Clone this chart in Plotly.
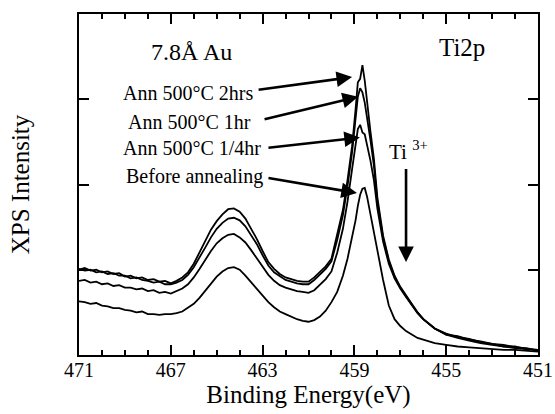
import plotly.graph_objects as go

# ---- data (binding energy in eV, intensity in arbitrary units) ----
energy = [471.00, 470.75, 470.50, 470.25, 470.00, 469.75, 469.50, 469.25, 469.00, 468.75,
          468.50, 468.25, 468.00, 467.75, 467.50, 467.25, 467.00, 466.75, 466.50, 466.25,
          466.00, 465.75, 465.50, 465.25, 465.00, 464.75, 464.50, 464.25, 464.00, 463.75,
          463.50, 463.25, 463.00, 462.75, 462.50, 462.25, 462.00, 461.75, 461.50, 461.25,
          461.00,
          460.75, 460.50, 460.25, 460.00, 459.75, 459.50, 459.30, 459.10, 458.95, 458.85,
          458.75, 458.65, 458.55, 458.45, 458.30, 458.15, 458.00, 457.75, 457.50, 457.25,
          457.00, 456.75, 456.50, 456.25, 456.00, 455.75, 455.50, 455.00, 454.50, 454.00,
          453.50, 453.00, 452.50, 452.00, 451.50, 451.00]

ann_2hrs = [1.00, 1.02, 0.99, 1.00, 0.97, 0.98, 0.95, 0.96, 0.92, 0.93,
            0.90, 0.91, 0.88, 0.89, 0.86, 0.87, 0.84, 0.87, 0.91, 0.97,
            1.07, 1.20, 1.33, 1.47, 1.57, 1.65, 1.71, 1.72, 1.68, 1.60,
            1.48, 1.36, 1.22, 1.09, 1.01, 0.95, 0.91, 0.89, 0.87, 0.86,
            0.86,
            0.91, 0.97, 1.04, 1.13, 1.40, 1.70, 2.05, 2.45, 2.88, 3.20,
            3.24, 3.40, 3.22, 2.95, 2.62, 2.30, 1.85, 1.40, 1.12, 0.93,
            0.80, 0.70, 0.60, 0.50, 0.42, 0.36, 0.31, 0.24, 0.22, 0.18,
            0.16, 0.13, 0.12, 0.09, 0.08, 0.05]

ann_1hr = [1.01, 0.99, 1.00, 0.97, 0.98, 0.95, 0.96, 0.93, 0.93, 0.90,
           0.91, 0.88, 0.87, 0.85, 0.86, 0.83, 0.83, 0.85, 0.88, 0.94,
           1.03, 1.14, 1.26, 1.38, 1.48, 1.55, 1.60, 1.61, 1.58, 1.51,
           1.41, 1.30, 1.17, 1.05, 0.97, 0.92, 0.88, 0.86, 0.84, 0.83,
           0.83,
           0.88, 0.94, 1.01, 1.10, 1.35, 1.64, 1.98, 2.38, 2.78, 3.03,
           3.13, 3.08, 2.96, 2.80, 2.52, 2.22, 1.80, 1.37, 1.10, 0.92,
           0.79, 0.69, 0.59, 0.50, 0.42, 0.36, 0.31, 0.25, 0.21, 0.19,
           0.15, 0.13, 0.10, 0.10, 0.07, 0.06]

ann_quarter = [0.87, 0.88, 0.85, 0.86, 0.83, 0.84, 0.81, 0.82, 0.79, 0.79,
               0.77, 0.78, 0.75, 0.76, 0.73, 0.74, 0.72, 0.75, 0.78, 0.83,
               0.91, 1.01, 1.12, 1.22, 1.31, 1.37, 1.41, 1.42, 1.38, 1.32,
               1.23, 1.13, 1.03, 0.94, 0.87, 0.82, 0.79, 0.77, 0.75, 0.74,
               0.73,
               0.76, 0.82, 0.89, 0.98, 1.20, 1.48, 1.80, 2.18, 2.50, 2.65,
               2.70, 2.61, 2.59, 2.47, 2.28, 2.05, 1.72, 1.33, 1.07, 0.90,
               0.78, 0.68, 0.58, 0.49, 0.42, 0.37, 0.31, 0.24, 0.20, 0.17,
               0.14, 0.12, 0.10, 0.08, 0.07, 0.06]

before_anneal = [0.63, 0.62, 0.60, 0.61, 0.58, 0.57, 0.55, 0.55, 0.53, 0.52,
                 0.50, 0.51, 0.48, 0.48, 0.47, 0.48, 0.48, 0.49, 0.51, 0.55,
                 0.60, 0.67, 0.75, 0.84, 0.92, 0.98, 1.02, 1.03, 1.00, 0.93,
                 0.85, 0.77, 0.69, 0.62, 0.56, 0.51, 0.48, 0.45, 0.42, 0.40,
                 0.39,
                 0.41, 0.45, 0.52, 0.62, 0.74, 0.93, 1.13, 1.38, 1.58, 1.75,
                 1.88, 1.95, 1.96, 1.86, 1.65, 1.42, 1.20, 0.88, 0.58, 0.42,
                 0.34, 0.28, 0.24, 0.20, 0.18, 0.16, 0.14, 0.12, 0.10, 0.09,
                 0.08, 0.07, 0.06, 0.06, 0.05, 0.04]

series = [("Ann 500°C 2hrs", ann_2hrs), ("Ann 500°C 1hr", ann_1hr),
          ("Ann 500°C 1/4hr", ann_quarter), ("Before annealing", before_anneal)]

x_ticks = [471, 467, 463, 459, 455, 451]
y_ticks = [1, 2, 3]

FONT = "Liberation Serif, Times New Roman, serif"

fig = go.Figure()
for name, vals in series:
    fig.add_trace(go.Scatter(x=energy, y=vals, mode="lines", name=name,
                             line=dict(color="black", width=1.8), showlegend=False))

axis_common = dict(showline=True, linecolor="black", linewidth=2, mirror="ticks",
                   ticks="inside", tickcolor="black", tickwidth=2, showgrid=False,
                   zeroline=False, automargin=False)

fig.update_xaxes(range=[471, 451], tickvals=x_ticks, ticktext=[str(v) for v in x_ticks],
                 ticklen=10, ticklabelstandoff=-4, ticklabeloverflow="allow",
                 tickfont=dict(family=FONT, size=20, color="black"),
                 minor=dict(dtick=1, ticks="inside", ticklen=5, tickwidth=2, tickcolor="black"),
                 title=dict(text="Binding Energy(eV)", standoff=4,
                            font=dict(family=FONT, size=25, color="black")),
                 **axis_common)
fig.update_yaxes(range=[0, 4], tickvals=y_ticks, showticklabels=False, ticklen=10,
                 title=dict(text="XPS Intensity", standoff=40,
                            font=dict(family=FONT, size=25, color="black")),
                 **axis_common)

# text labels
def txt(x, y, s, size, xanchor="center"):
    fig.add_annotation(x=x, y=y, xref="x", yref="y", text=s, showarrow=False,
                       xanchor=xanchor, yanchor="middle",
                       font=dict(family=FONT, size=size, color="black"))

txt(466.08, 3.55, "7.8Å Au", 24)
txt(454.31, 3.61, "Ti2p", 25)
txt(463.33, 3.07, "Ann 500°C 2hrs", 20, "right")
txt(463.42, 2.73, "Ann 500°C 1hr", 20, "right")
txt(462.98, 2.43, "Ann 500°C 1/4hr", 20, "right")
txt(462.90, 2.09, "Before annealing", 20, "right")
txt(456.66, 2.40, "Ti <sup>3+</sup>", 21)

# arrows
def arrow(x0, y0, x1, y1):
    fig.add_annotation(x=x1, y=y1, ax=x0, ay=y0, xref="x", yref="y", axref="x", ayref="y",
                       text="", showarrow=True, arrowhead=2, arrowsize=1.2,
                       arrowwidth=2.6, arrowcolor="black", standoff=0, startstandoff=0)

arrow(463.24, 3.11, 459.10, 3.26)
arrow(462.98, 2.76, 458.84, 3.03)
arrow(462.81, 2.43, 458.76, 2.55)
arrow(462.81, 2.08, 458.89, 1.90)
arrow(456.75, 2.20, 456.75, 1.09)

fig.update_layout(width=555, height=414, margin=dict(l=79, r=17, t=14, b=59),
                  paper_bgcolor="white", plot_bgcolor="white",
                  font=dict(family=FONT, color="black"))

# remove the page's default 8px body margin so the figure sits at the window origin
fig.write_html("out.html", config={"displayModeBar": False},
               post_script="document.body.style.margin='0';document.body.style.overflow='hidden';")
